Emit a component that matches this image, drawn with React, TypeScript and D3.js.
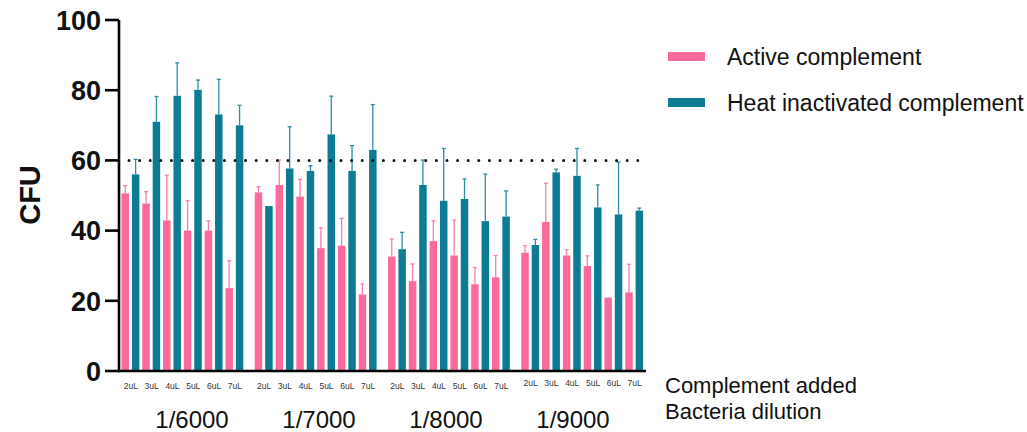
import React from "react";
import * as d3 from "d3";

const groups = ["1/6000", "1/7000", "1/8000", "1/9000"];
const doses = ["2uL", "3uL", "4uL", "5uL", "6uL", "7uL"];
const seriesNames = ["Active complement", "Heat inactivated complement"];

// mean values per dilution group, 2uL..7uL
const activeMean = [
  [50.6, 47.7, 42.9, 40.0, 40.0, 23.6],
  [50.9, 53.0, 49.7, 35.0, 35.7, 21.8],
  [32.6, 25.6, 37.0, 32.9, 24.7, 26.7],
  [33.7, 42.5, 32.9, 29.9, 20.9, 22.4],
];
const activeSd = [
  [2.2, 3.4, 12.9, 8.5, 2.8, 7.8],
  [1.6, 7.1, 4.9, 5.8, 7.8, 3.0],
  [5.0, 4.9, 5.8, 10.1, 4.8, 6.2],
  [2.0, 11.0, 1.6, 2.9, 0, 8.0],
];
const heatMean = [
  [56.0, 71.0, 78.4, 80.1, 73.1, 70.0],
  [47.0, 57.7, 57.0, 67.4, 57.0, 63.0],
  [34.7, 53.0, 48.5, 49.0, 42.7, 44.0],
  [35.9, 56.6, 55.6, 46.6, 44.6, 45.7],
];
const heatSd = [
  [4.3, 7.2, 9.4, 2.8, 10.0, 5.7],
  [0, 11.9, 1.5, 10.9, 7.2, 12.9],
  [4.8, 7.1, 14.9, 5.7, 13.4, 7.3],
  [1.6, 0.9, 7.8, 6.4, 14.9, 0.7],
];
const yTicks = [0, 20, 40, 60, 80, 100];
const threshold = 60;

const colors = ["#FB6A9B", "#0D7C93"];
const errColors = ["#F77FA8", "#2C8CA2"];
const font = "'Liberation Sans', Arial, sans-serif";

export default function App() {
  const y = d3.scaleLinear().domain([0, 100]).range([371, 20]);
  const x0 = d3.scaleBand<string>().domain(groups).range([121.5, 646]).paddingInner(0.064);
  const x1 = d3.scaleBand<string>().domain(doses).range([0, x0.bandwidth()]);
  const x2 = d3.scaleBand<string>().domain(seriesNames).range([0, x1.bandwidth()]);
  const barW = x2.bandwidth() * 0.72;
  const labelX = d3.scalePoint<string>().domain(groups).range([192, 573]);

  const means = [activeMean, heatMean];
  const sds = [activeSd, heatSd];

  const bars: React.ReactNode[] = [];
  groups.forEach((g, gi) => {
    doses.forEach((d, di) => {
      seriesNames.forEach((s, si) => {
        const v = means[si][gi][di];
        const e = sds[si][gi][di];
        const bx = (x0(g) ?? 0) + (x1(d) ?? 0) + (x2(s) ?? 0);
        const cx = bx + barW / 2;
        bars.push(
          <g key={`${g}-${d}-${s}`}>
            {e > 0 && (
              <g stroke={errColors[si]} strokeWidth={1.3}>
                <line x1={cx} x2={cx} y1={y(v)} y2={y(v + e)} />
                <line x1={cx - 2} x2={cx + 2} y1={y(v + e)} y2={y(v + e)} />
              </g>
            )}
            <rect x={bx} y={y(v)} width={barW} height={y(0) - y(v)} fill={colors[si]} />
          </g>
        );
      });
    });
  });

  return (
    <svg width={1027} height={432} style={{ position: "absolute", left: 0, top: 0, background: "#fff" }} fontFamily={font}>
      {bars}
      <line
        x1={129}
        x2={640}
        y1={y(threshold)}
        y2={y(threshold)}
        stroke="#111"
        strokeWidth={3}
        strokeLinecap="round"
        strokeDasharray="0 10.6"
      />
      {/* y axis */}
      <line x1={119} x2={119} y1={y(100)} y2={y(0) + 1.2} stroke="#000" strokeWidth={2.6} />
      {yTicks.map((t) => (
        <g key={t}>
          <line x1={105} x2={119} y1={y(t)} y2={y(t)} stroke="#000" strokeWidth={2.6} />
          <text x={101} y={y(t)} dy="0.36em" textAnchor="end" fontSize={27} fontWeight="bold" fill="#111">
            {t}
          </text>
        </g>
      ))}
      <text transform={`translate(40,195) rotate(-90)`} textAnchor="middle" fontSize={29} fontWeight="bold" fill="#111">
        CFU
      </text>
      {/* x axis */}
      <line x1={118} x2={646} y1={y(0)} y2={y(0)} stroke="#000" strokeWidth={2.6} />
      {groups.map((g, gi) =>
        doses.map((d) => (
          <text
            key={`${g}-${d}-lab`}
            x={(x0(g) ?? 0) + (x1(d) ?? 0) + x1.bandwidth() / 2 - 1}
            y={gi === 3 ? 386 : 389}
            textAnchor="middle"
            fontSize={8.5}
            fill="#333"
          >
            {d}
          </text>
        ))
      )}
      {groups.map((g) => (
        <text key={g} x={labelX(g)} y={428} textAnchor="middle" fontSize={24} fill="#111">
          {g}
        </text>
      ))}
      <text x={665} y={393} fontSize={22} fill="#111">Complement added</text>
      <text x={665} y={419} fontSize={22} fill="#111">Bacteria dilution</text>
      {/* legend */}
      {seriesNames.map((s, i) => (
        <g key={s} transform={`translate(668,${52 + i * 46})`}>
          <rect width={37} height={9} fill={colors[i]} />
          <text x={59} y={4.5} dy="0.36em" fontSize={23} fill="#111">
            {s}
          </text>
        </g>
      ))}
    </svg>
  );
}
